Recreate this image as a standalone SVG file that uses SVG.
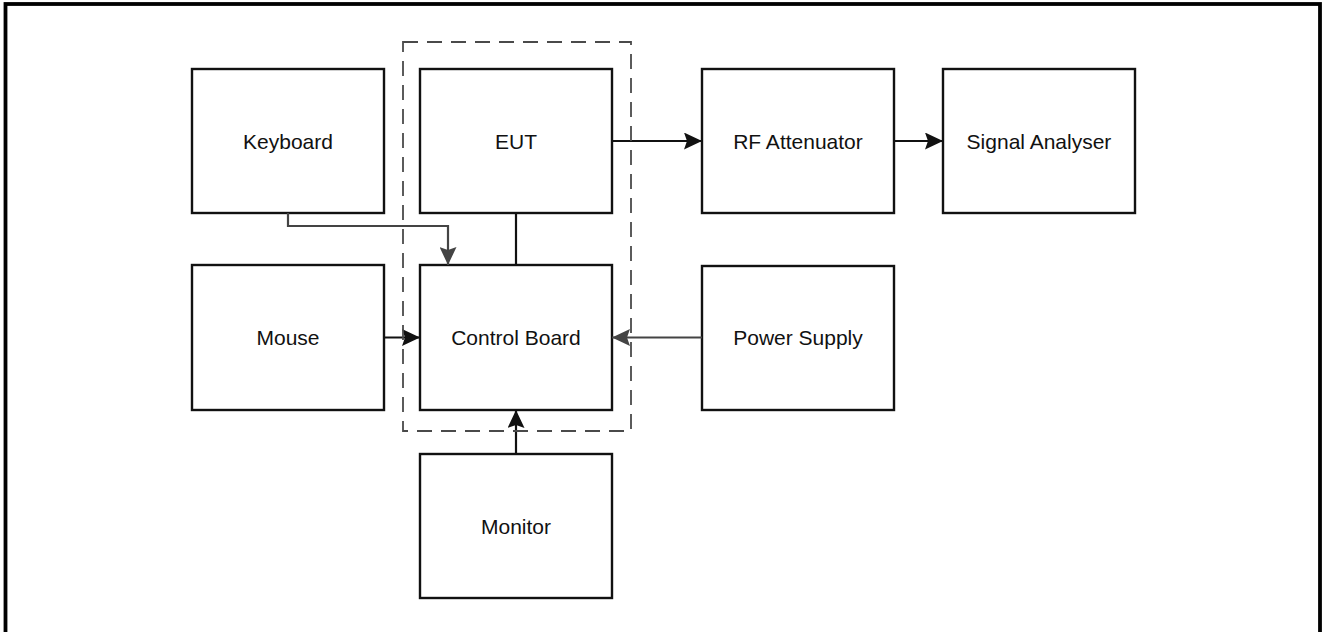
<svg xmlns="http://www.w3.org/2000/svg" width="1322" height="632" viewBox="0 0 1322 632">
<style>
.box{fill:#fff;stroke:#111;stroke-width:2.4}
.lbl{font-family:"Liberation Sans",Arial,sans-serif;font-size:21px;fill:#111;text-anchor:middle}
.con{fill:none;stroke:#111;stroke-width:2.2}
.cong{fill:none;stroke:#444;stroke-width:2.2}
</style>
<defs>
<marker id="ab" viewBox="0 0 18 17" refX="18" refY="8.5" markerWidth="18" markerHeight="17" markerUnits="userSpaceOnUse" orient="auto">
<path d="M0,0 L18,8.5 L0,17 L3,8.5 z" fill="#111"/>
</marker>
<marker id="ag" viewBox="0 0 18 17" refX="18" refY="8.5" markerWidth="18" markerHeight="17" markerUnits="userSpaceOnUse" orient="auto">
<path d="M0,0 L18,8.5 L0,17 L3,8.5 z" fill="#444"/>
</marker>
</defs>
<rect x="0" y="0" width="1322" height="632" fill="#fff"/>
<rect x="5.5" y="4" width="1314.5" height="700" fill="none" stroke="#000" stroke-width="3.8"/>
<g id="keyboard"><rect class="box" x="192" y="69" width="192" height="144"/><text class="lbl" x="288" y="148.5">Keyboard</text></g>
<g id="eut"><rect class="box" x="420" y="69" width="192" height="144"/><text class="lbl" x="516" y="148.5">EUT</text></g>
<g id="rf-attenuator"><rect class="box" x="702" y="69" width="192" height="144"/><text class="lbl" x="798" y="148.5">RF Attenuator</text></g>
<g id="signal-analyser"><rect class="box" x="943" y="69" width="192" height="144"/><text class="lbl" x="1039" y="148.5">Signal Analyser</text></g>
<g id="mouse"><rect class="box" x="192" y="265" width="192" height="145"/><text class="lbl" x="288" y="345">Mouse</text></g>
<g id="control-board"><rect class="box" x="420" y="265" width="192" height="145"/><text class="lbl" x="516" y="345">Control Board</text></g>
<g id="power-supply"><rect class="box" x="702" y="266" width="192" height="144"/><text class="lbl" x="798" y="345">Power Supply</text></g>
<g id="monitor"><rect class="box" x="420" y="454" width="192" height="144"/><text class="lbl" x="516" y="533.5">Monitor</text></g>
<g id="connectors">
<line class="con" x1="612" y1="141" x2="702" y2="141" marker-end="url(#ab)"/>
<line class="con" x1="894" y1="141" x2="943" y2="141" marker-end="url(#ab)"/>
<polyline class="cong" points="288,213 288,226 448,226 448,265" marker-end="url(#ag)"/>
<line class="con" x1="516" y1="213" x2="516" y2="265"/>
<line class="con" x1="384" y1="337.5" x2="420" y2="337.5" marker-end="url(#ab)"/>
<line class="cong" x1="702" y1="337.5" x2="612" y2="337.5" marker-end="url(#ag)"/>
<line class="con" x1="516" y1="454" x2="516" y2="410" marker-end="url(#ab)"/>
</g>
<g id="eut-boundary"><rect x="403" y="42" width="228" height="389" fill="none" stroke="#4a4a4a" stroke-width="1.8" stroke-dasharray="15 9"/></g>
</svg>
